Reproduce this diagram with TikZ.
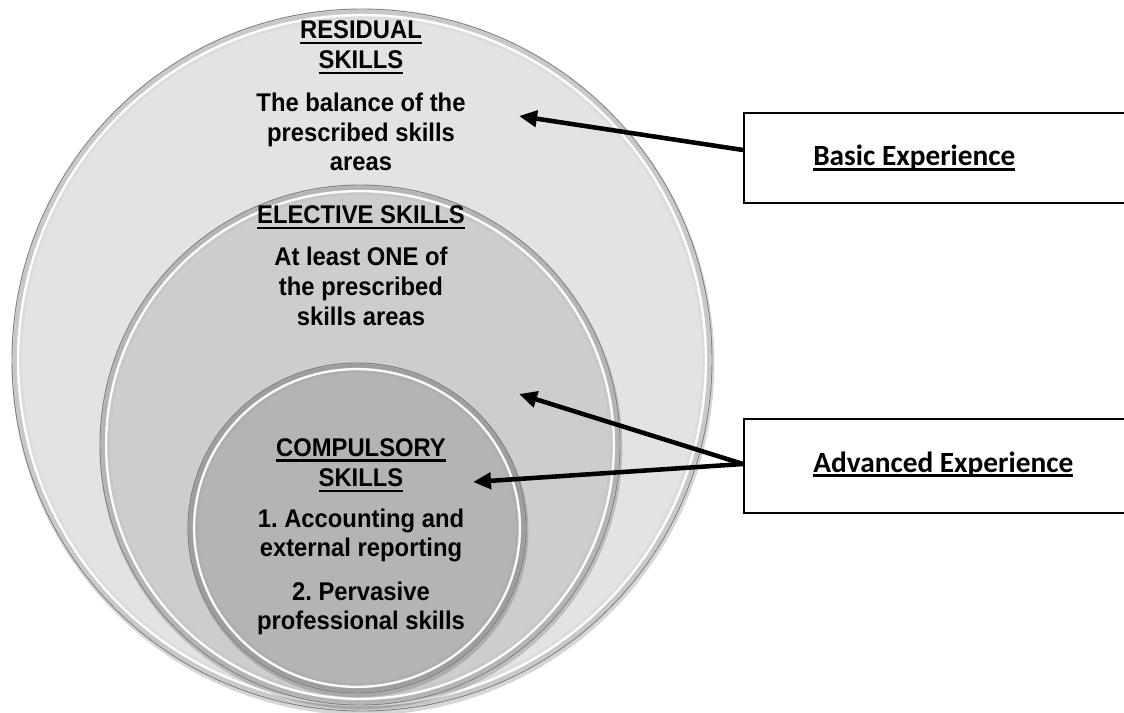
\documentclass[tikz,border=0pt]{standalone}
\usepackage{fontspec}
\setmainfont{Liberation Sans}
\newfontfamily\narrowf{Liberation Sans}[FakeStretch=0.93]
\newfontfamily\carlito{Carlito}
\usetikzlibrary{arrows.meta}
\frenchspacing
\definecolor{outerc}{HTML}{E3E3E3}
\definecolor{midc}{HTML}{CDCDCD}
\definecolor{innerc}{HTML}{B4B4B4}
\newcommand\ulc[1]{\leavevmode\setbox0\hbox{#1}\rlap{\rule[-4.3pt]{\wd0}{1.7pt}}\box0}
\newcommand\ulb[1]{\leavevmode\setbox0\hbox{#1}\rlap{\rule[-3.4pt]{\wd0}{1.9pt}}\box0}
\newcommand\bdisc[4]{%
  \fill[black,opacity=.16] ([xshift=0.8pt,yshift=-2.2pt]#1) ellipse [x radius=#2*0.75pt+1pt, y radius=#3*0.75pt+1pt];
  \fill[#4] (#1) ellipse [x radius=#2*0.75pt, y radius=#3*0.75pt];
  \draw[#4!88!black, line width=3pt] (#1) ellipse [x radius=#2*0.75pt-2.2pt, y radius=#3*0.75pt-2.2pt];
  \draw[white, line width=1.8pt, opacity=.95] (#1) ellipse [x radius=#2*0.75pt-4.6pt, y radius=#3*0.75pt-4.6pt];
  \draw[#4!95!black, line width=2pt, opacity=.6] (#1) ellipse [x radius=#2*0.75pt-6.6pt, y radius=#3*0.75pt-6.6pt];
  \draw[black!50, line width=.7pt] (#1) ellipse [x radius=#2*0.75pt, y radius=#3*0.75pt];
}
\tikzset{
  ctext/.style={anchor=base, inner sep=0pt, font=\narrowf\bfseries\fontsize{19.2}{22}\selectfont},
  btext/.style={anchor=base west, inner sep=0pt, font=\carlito\bfseries\fontsize{22}{26}\selectfont},
  expbox/.style={draw=black, line width=1.5pt, fill=white, anchor=north west, minimum width=300pt, inner sep=0pt},
  arr/.style={line width=3.4pt, -{Triangle[length=13.5pt,width=12pt]}}
}
\begin{document}
\begin{tikzpicture}[x=0.75pt,y=-0.75pt]
\useasboundingbox (0,0) rectangle (1124,713);
\clip (0,0) rectangle (1124,713);
\fill[white] (0,0) rectangle (1124,713);
\coordinate (oc) at (362,360);
\coordinate (mc) at (360,445);
\coordinate (ic) at (357,528);
\bdisc{oc}{350}{351}{outerc}
\bdisc{mc}{260}{260}{midc}
\bdisc{ic}{169}{165}{innerc}
% texts
\node[ctext] (t1) at (361,38.3) {\ulc{RESIDUAL}};
\node[ctext] (t2) at (361,68.3) {\ulc{SKILLS}};
\node[ctext] (t3) at (361,111.7) {The balance of the};
\node[ctext] (t4) at (361,141.7) {prescribed skills};
\node[ctext] (t5) at (361,170.7) {areas};
\node[ctext] (t6) at (361,223.3) {\ulc{ELECTIVE SKILLS}};
\node[ctext] (t7) at (361,265) {At least ONE of};
\node[ctext] (t8) at (361,295) {the prescribed};
\node[ctext] (t9) at (361,325) {skills areas};
\node[ctext] (t10) at (361,456) {\ulc{COMPULSORY}};
\node[ctext] (t11) at (361,486.7) {\ulc{SKILLS}};
\node[ctext] (t12) at (361,527.7) {1. Accounting and};
\node[ctext] (t13) at (361,556.7) {external reporting};
\node[ctext] (t14) at (361,600.7) {2. Pervasive};
\node[ctext] (t15) at (361,629.3) {professional skills};
% boxes
\node[expbox, minimum height=67.5pt] (basic) at (743,112) {};
\node[expbox, minimum height=70.5pt] (adv) at (743,418) {};
\node[btext] (basiclbl) at (813,166) {\ulb{Basic Experience}};
\node[btext] (advlbl) at (813,472) {\ulb{Advanced Experience}};
% arrows
\coordinate (h1) at (519,116);
\coordinate (h2) at (519,394);
\coordinate (h3) at (473,482);
\draw[arr] ([yshift=6pt]basic.west) -- (h1);
\draw[arr] ([yshift=1.5pt]adv.west) -- (h2);
\draw[arr] ([yshift=1.5pt]adv.west) -- (h3);
\end{tikzpicture}
\end{document}
